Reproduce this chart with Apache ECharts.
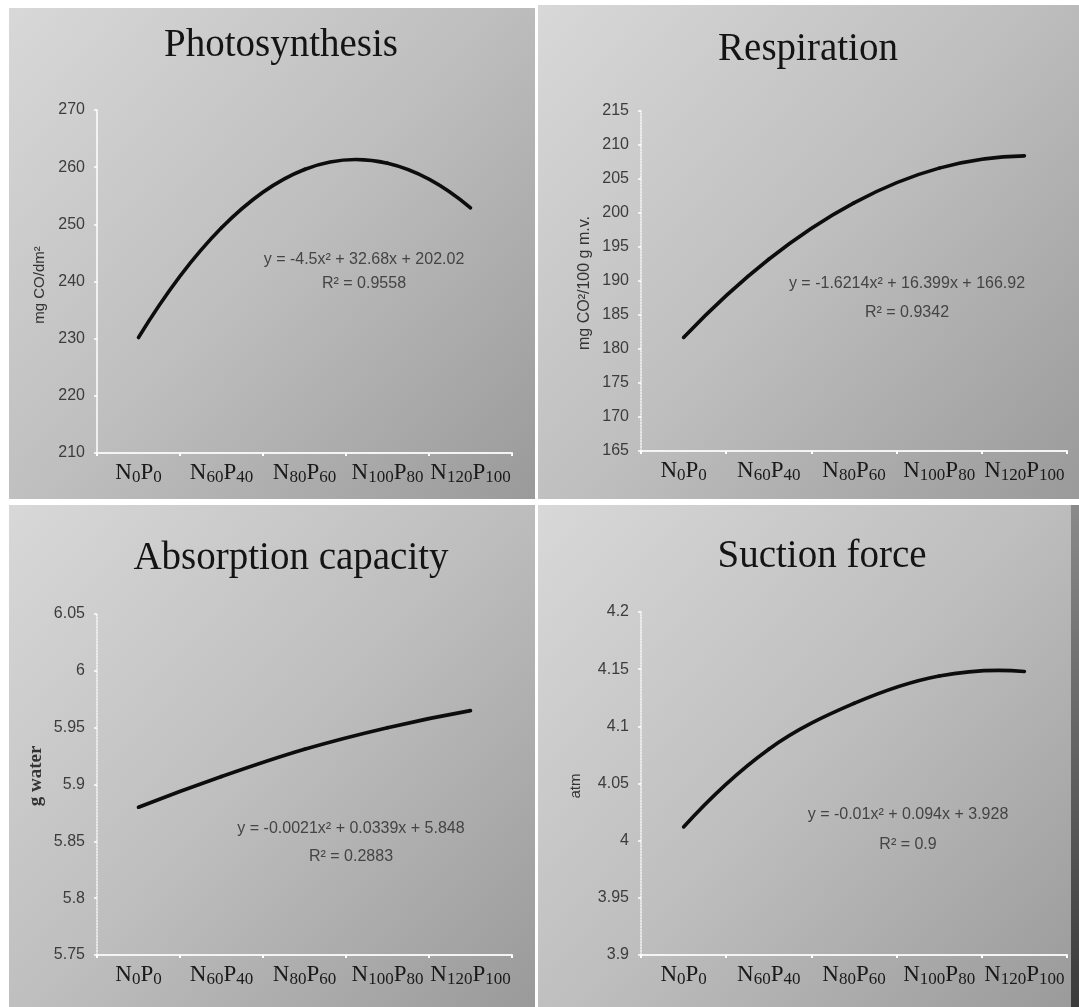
<!DOCTYPE html>
<html>
<head>
<meta charset="utf-8">
<script src="https://cdn.jsdelivr.net/npm/echarts@6/dist/echarts.min.js"></script>
<style>
html,body{margin:0;padding:0;background:#fff;}
#c{width:1079px;height:1007px;}
</style>
</head>
<body>
<div id="c"></div>
<script>
// ---- data ----
const categories = ['N0P0', 'N60P40', 'N80P60', 'N100P80', 'N120P100'];
const titles = ['Photosynthesis', 'Respiration', 'Absorption capacity', 'Suction force'];
const yNames = ['mg CO/dm²', 'mg CO²/100 g m.v.', 'g water', 'atm'];
const photosynthesis = [230.2, 249.4, 259.6, 260.7, 252.9];
const respiration = [181.7, 193.2, 201.5, 206.6, 208.4];
const absorption = [5.880, 5.907, 5.931, 5.950, 5.965];
const suction = [4.012, 4.080, 4.120, 4.144, 4.148];
const yMin = [210, 165, 5.75, 3.9];
const yMax = [270, 215, 6.05, 4.2];
const yStep = [10, 5, 0.05, 0.05];
const equations = ['y = -4.5x² + 32.68x + 202.02', 'y = -1.6214x² + 16.399x + 166.92', 'y = -0.0021x² + 0.0339x + 5.848', 'y = -0.01x² + 0.094x + 3.928'];
const rSquared = ['R² = 0.9558', 'R² = 0.9342', 'R² = 0.2883', 'R² = 0.9'];

const seriesData = [photosynthesis, respiration, absorption, suction];

// ---- layout ----
const panels = [
  {x: 9, y: 8, w: 526, h: 491, grid: {left: 97, top: 110, right: 1079 - 512, bottom: 1007 - 453}, title: [281, 46], yName: [40, 285], yFont: '15px "Liberation Sans", sans-serif', eq: [364, 260, 284]},
  {x: 538, y: 5, w: 541, h: 494, grid: {left: 641, top: 111, right: 1079 - 1067, bottom: 1007 - 451}, title: [808, 50], yName: [585, 283], yFont: '16px "Liberation Sans", sans-serif', eq: [907, 284, 313]},
  {x: 9, y: 505, w: 526, h: 502, grid: {left: 97, top: 614, right: 1079 - 512, bottom: 1007 - 955}, title: [291, 559], yName: [36, 776], yFont: 'bold 19px "Liberation Serif", serif', eq: [351, 829, 857]},
  {x: 538, y: 505, w: 541, h: 502, grid: {left: 641, top: 612, right: 1079 - 1067, bottom: 1007 - 955}, title: [822, 557], yName: [576, 786], yFont: '15px "Liberation Sans", sans-serif', eq: [908, 815, 845]}
];

const chart = echarts.init(document.getElementById('c'), null, {renderer: 'canvas'});

const graphic = [];
panels.forEach((p, i) => {
  graphic.push({
    type: 'rect', z: -100, silent: true,
    shape: {x: p.x, y: p.y, width: p.w, height: p.h},
    style: {fill: new echarts.graphic.LinearGradient(0, 0, 1, 1, [
      {offset: 0, color: '#d8d8d8'},
      {offset: 0.5, color: '#bebebe'},
      {offset: 1, color: '#9a9a9a'}
    ])}
  });
  graphic.push({
    type: 'text', z: 100, x: p.title[0], y: p.title[1],
    style: {text: titles[i], font: '39px "Liberation Serif", serif', fill: '#141414', align: 'center', verticalAlign: 'middle'}
  });
  graphic.push({
    type: 'text', z: 100, x: p.yName[0], y: p.yName[1], rotation: Math.PI / 2,
    style: {text: yNames[i], font: p.yFont, fill: '#333', align: 'center', verticalAlign: 'middle'}
  });
  graphic.push({
    type: 'text', z: 100, x: p.eq[0], y: p.eq[1],
    style: {text: equations[i], font: '16px "Liberation Sans", sans-serif', fill: '#444', align: 'center', verticalAlign: 'middle'}
  });
  graphic.push({
    type: 'text', z: 100, x: p.eq[0], y: p.eq[2],
    style: {text: rSquared[i], font: '16px "Liberation Sans", sans-serif', fill: '#444', align: 'center', verticalAlign: 'middle'}
  });
});
// dark right edge of the lower-right panel
graphic.push({
  type: 'rect', z: -90, silent: true,
  shape: {x: 1071, y: 505, width: 8, height: 502},
  style: {fill: new echarts.graphic.LinearGradient(0, 0, 0, 1, [
    {offset: 0, color: '#8a8a8a'},
    {offset: 1, color: '#3a3a3a'}
  ])}
});

function catLabel(v) {
  const m = v.match(/^N(\d+)P(\d+)$/);
  return '{n|N}{s|' + m[1] + '}{n|P}{s|' + m[2] + '}';
}

// smooth trend curve drawn through the axis scales (api.coord)
function makeRender(data) {
  return function (params, api) {
    if (params.dataIndex !== 0) return;
    const pts = data.map((v, k) => api.coord([k, v]));
    const n = pts.length;
    const tan = pts.map((p, k) => {
      if (k === 0) return [(-3 * pts[0][0] + 4 * pts[1][0] - pts[2][0]) / 2, (-3 * pts[0][1] + 4 * pts[1][1] - pts[2][1]) / 2];
      if (k === n - 1) return [(3 * pts[n - 1][0] - 4 * pts[n - 2][0] + pts[n - 3][0]) / 2, (3 * pts[n - 1][1] - 4 * pts[n - 2][1] + pts[n - 3][1]) / 2];
      return [(pts[k + 1][0] - pts[k - 1][0]) / 2, (pts[k + 1][1] - pts[k - 1][1]) / 2];
    });
    const children = [];
    for (let k = 0; k < n - 1; k++) {
      children.push({
        type: 'bezierCurve',
        shape: {
          x1: pts[k][0], y1: pts[k][1],
          cpx1: pts[k][0] + tan[k][0] / 3, cpy1: pts[k][1] + tan[k][1] / 3,
          cpx2: pts[k + 1][0] - tan[k + 1][0] / 3, cpy2: pts[k + 1][1] - tan[k + 1][1] / 3,
          x2: pts[k + 1][0], y2: pts[k + 1][1]
        },
        style: {stroke: '#0d0d0d', lineWidth: 3.6, fill: null, lineCap: 'round'}
      });
    }
    return {type: 'group', children: children};
  };
}

const option = {
  animation: false,
  backgroundColor: '#ffffff',
  graphic: graphic,
  grid: panels.map(p => Object.assign({containLabel: false}, p.grid)),
  xAxis: panels.map((p, i) => ({
    type: 'category', gridIndex: i, data: categories, boundaryGap: true,
    axisLine: {lineStyle: {color: '#f4f4f4', width: 2}},
    axisTick: {show: true, length: 3, lineStyle: {color: '#ffffff', width: 2}},
    axisLabel: {
      margin: 8, interval: 0, formatter: catLabel,
      rich: {
        n: {fontFamily: '"Liberation Serif", serif', fontSize: 23, color: '#1a1a1a', lineHeight: 24},
        s: {fontFamily: '"Liberation Serif", serif', fontSize: 17, color: '#1a1a1a', padding: [9, 0, 0, 0], lineHeight: 24}
      }
    },
    splitLine: {show: false}
  })),
  yAxis: panels.map((p, i) => ({
    type: 'value', gridIndex: i, min: yMin[i], max: yMax[i], interval: yStep[i],
    axisLine: {show: true, lineStyle: {color: i === 0 ? '#ffffff' : 'rgba(255,255,255,0.85)', width: 1.5, type: i === 0 ? 'solid' : 'dotted'}},
    axisTick: {show: true, length: 3, lineStyle: {color: '#ffffff', width: 1.5}},
    axisLabel: {margin: 12, fontFamily: '"Liberation Sans", sans-serif', fontSize: 16, color: '#3c3c3c'},
    splitLine: {show: false}
  })),
  series: seriesData.map((d, i) => ({
    type: 'custom', xAxisIndex: i, yAxisIndex: i,
    data: d.map((v, k) => [k, v]),
    encode: {x: 0, y: 1},
    renderItem: makeRender(d),
    clip: false
  }))
};
chart.setOption(option);
</script>
</body>
</html>
